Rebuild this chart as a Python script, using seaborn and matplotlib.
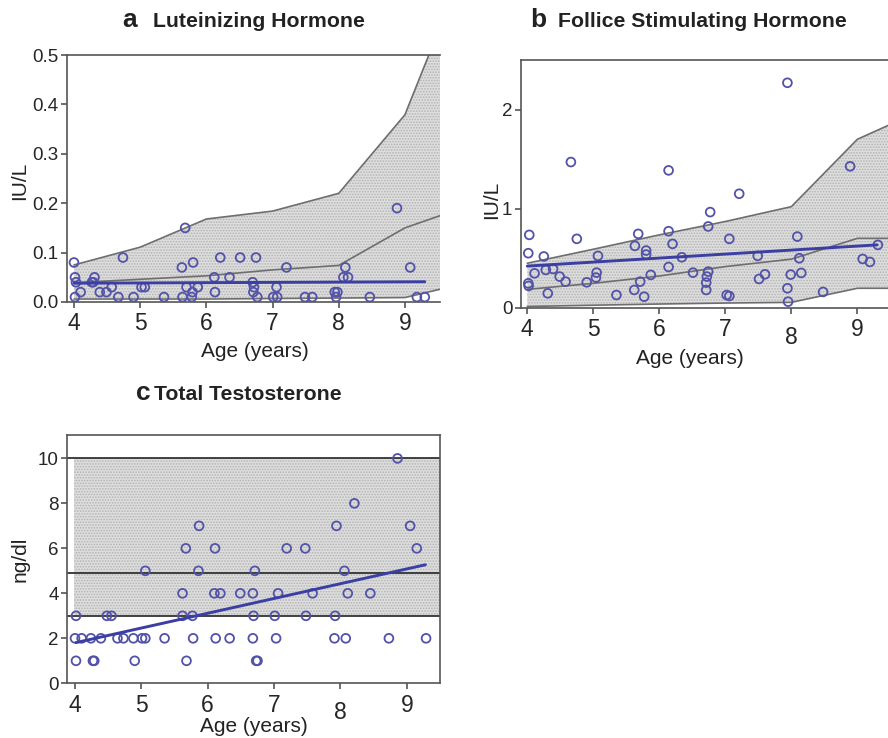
import numpy as np
import pandas as pd
import matplotlib
matplotlib.use("Agg")
import matplotlib.pyplot as plt
from matplotlib.ticker import FormatStrFormatter
import seaborn as sns

# ---------------- data ----------------
# (a) Luteinizing hormone
lh_age = [4.00, 4.015, 4.03, 4.015, 4.10, 4.27, 4.29, 4.31, 4.39, 4.49, 4.57, 4.67,
          4.74, 4.90, 5.02, 5.07, 5.36, 5.63, 5.64, 5.68, 5.70, 5.78, 5.79, 5.80,
          5.87, 6.12, 6.13, 6.21, 6.35, 6.51, 6.70, 6.72, 6.71, 6.75, 6.77, 7.01,
          7.06, 7.07, 7.21, 7.49, 7.60, 7.94, 7.96, 7.98, 8.07, 8.10, 8.14, 8.47,
          8.88, 9.08, 9.18, 9.30]
lh_val = [0.08, 0.05, 0.04, 0.01, 0.02, 0.04, 0.04, 0.05, 0.02, 0.02, 0.03, 0.01,
          0.09, 0.01, 0.03, 0.03, 0.01, 0.07, 0.01, 0.15, 0.03, 0.01, 0.02, 0.08,
          0.03, 0.05, 0.02, 0.09, 0.05, 0.09, 0.04, 0.03, 0.02, 0.09, 0.01, 0.01,
          0.03, 0.01, 0.07, 0.01, 0.01, 0.02, 0.01, 0.02, 0.05, 0.07, 0.05, 0.01,
          0.19, 0.07, 0.01, 0.01]
lh_knot_age = [4, 5, 6, 7, 8, 9, 9.6]
lh_upper = [0.075, 0.111, 0.168, 0.184, 0.220, 0.379, 0.58]
lh_middle = [0.039, 0.046, 0.053, 0.065, 0.074, 0.150, 0.178]
lh_lower = [0.006, 0.006, 0.006, 0.007, 0.008, 0.009, 0.028]
lh_fit_age = [4.0, 9.3]
lh_fit = [0.038, 0.041]

# (b) Follicle stimulating hormone
fsh_age = [4.03, 4.015, 4.015, 4.02, 4.11, 4.25, 4.28, 4.31, 4.39, 4.49, 4.58, 4.66,
           4.75, 4.90, 5.04, 5.05, 5.07, 5.35, 5.63, 5.68, 5.62, 5.71, 5.77, 5.80,
           5.80, 5.87, 6.14, 6.14, 6.14, 6.20, 6.34, 6.51, 6.71, 6.71, 6.72, 6.74,
           6.74, 6.77, 7.02, 7.06, 7.06, 7.21, 7.49, 7.51, 7.60, 7.94, 7.94, 7.95,
           7.99, 8.09, 8.12, 8.15, 8.48, 8.89, 9.08, 9.19, 9.31]
fsh_val = [0.735, 0.55, 0.246, 0.22, 0.347, 0.517, 0.381, 0.145, 0.391, 0.314, 0.263, 1.47,
           0.695, 0.256, 0.304, 0.354, 0.523, 0.128, 0.624, 0.745, 0.179, 0.263, 0.111, 0.577,
           0.536, 0.331, 1.386, 0.772, 0.411, 0.644, 0.509, 0.354, 0.253, 0.179, 0.314, 0.364,
           0.82, 0.965, 0.128, 0.695, 0.118, 1.15, 0.523, 0.29, 0.337, 2.27, 0.196, 0.061,
           0.334, 0.718, 0.499, 0.351, 0.159, 1.427, 0.492, 0.462, 0.634]
fsh_knot_age = [4, 5, 6, 7, 8, 9, 9.6]
fsh_upper = [0.449, 0.59, 0.735, 0.87, 1.02, 1.70, 1.88]
fsh_middle = [0.185, 0.246, 0.32, 0.415, 0.49, 0.70, 0.70]
fsh_lower = [0.012, 0.025, 0.037, 0.047, 0.054, 0.196, 0.196]
fsh_fit_age = [4.0, 9.3]
fsh_fit = [0.42, 0.634]

# (c) Total testosterone
tt_age = [4.015, 4.27, 4.29, 4.90, 5.68, 6.73, 6.75,
          4.00, 4.10, 4.24, 4.39, 4.64, 4.73, 4.88, 5.01, 5.06, 5.35, 5.78, 6.12, 6.33,
          6.68, 7.03, 7.91, 8.08, 8.73, 9.29,
          4.015, 4.48, 4.55, 5.62, 5.77, 6.69, 7.01, 7.48, 7.92,
          5.62, 6.10, 6.19, 6.49, 6.68, 7.06, 7.58, 8.11, 8.45,
          5.06, 5.86, 6.71, 8.06,
          5.67, 6.11, 7.19, 7.47, 9.15,
          5.87, 7.94, 9.05,
          8.21,
          8.86]
tt_val = [1, 1, 1, 1, 1, 1, 1,
          2, 2, 2, 2, 2, 2, 2, 2, 2, 2, 2, 2, 2, 2, 2, 2, 2, 2, 2,
          3, 3, 3, 3, 3, 3, 3, 3, 3,
          4, 4, 4, 4, 4, 4, 4, 4, 4,
          5, 5, 5, 5,
          6, 6, 6, 6, 6,
          7, 7, 7,
          8,
          10]
tt_band = [3, 4.9, 10]
tt_fill_age = [3.99, 9.6]
tt_fit_age = [4.015, 9.28]
tt_fit = [1.81, 5.27]

# ---------------- style ----------------
sns.set_style("ticks")
plt.rcParams['font.family'] = ['Liberation Sans', 'DejaVu Sans']
plt.rcParams['hatch.linewidth'] = 0.8

W, H = 888, 738
fig = plt.figure(figsize=(W / 100, H / 100), dpi=100)

PT_COLOR = '#5252a8'
FIT_COLOR = '#3b3fa3'
CURVE_COLOR = '#6e6e6e'
SPINE_COLOR = '#555555'
FILL_FACE = '#dedede'
FILL_HATCH = '#b2b2b2'


def ax_px(l, t, r, b):
    return fig.add_axes([l / W, 1 - b / H, (r - l) / W, (b - t) / H])


def style_axes(ax, right=True):
    for side in ['left', 'bottom', 'top', 'right']:
        ax.spines[side].set_color(SPINE_COLOR)
        ax.spines[side].set_linewidth(1.2)
    ax.spines['right'].set_visible(right)
    ax.tick_params(axis='both', direction='out', length=4.5, width=1.2, color=SPINE_COLOR)
    ax.tick_params(axis='y', labelsize=13.5, pad=1.5)
    ax.tick_params(axis='x', labelsize=16.5, pad=3)
    ax.set_xlabel('')
    ax.set_ylabel('')


def scatter(ax, ages, vals):
    df = pd.DataFrame({'age': ages, 'val': vals})
    sns.scatterplot(data=df, x='age', y='val', ax=ax, marker='o', s=40,
                    facecolor='none', edgecolor=PT_COLOR, linewidth=1.3,
                    zorder=4, legend=False)


def fitline(ax, ages, vals):
    df = pd.DataFrame({'age': ages, 'val': vals})
    sns.lineplot(data=df, x='age', y='val', ax=ax, color=FIT_COLOR, lw=2.1,
                 zorder=5, legend=False)


def band(ax, knots, lower, middle, upper):
    ax.fill_between(knots, lower, upper, facecolor=FILL_FACE, edgecolor=FILL_HATCH,
                    hatch='......', linewidth=0, zorder=1)
    for curve in (lower, middle, upper):
        df = pd.DataFrame({'age': knots, 'val': curve})
        sns.lineplot(data=df, x='age', y='val', ax=ax, color=CURVE_COLOR, lw=1.2,
                     zorder=2, legend=False)


# ---- panel a ----
ax_a = ax_px(66.7, 55, 440, 302)
band(ax_a, lh_knot_age, lh_lower, lh_middle, lh_upper)
fitline(ax_a, lh_fit_age, lh_fit)
scatter(ax_a, lh_age, lh_val)
ax_a.set_xlim(3.89, 9.53)
ax_a.set_ylim(0, 0.5)
ax_a.set_xticks([4, 5, 6, 7, 8, 9])
ax_a.set_yticks([0, 0.1, 0.2, 0.3, 0.4, 0.5])
ax_a.yaxis.set_major_formatter(FormatStrFormatter('%.1f'))
style_axes(ax_a, right=False)

# ---- panel b ----
ax_b = ax_px(520.7, 60, 897, 307.7)
band(ax_b, fsh_knot_age, fsh_lower, fsh_middle, fsh_upper)
fitline(ax_b, fsh_fit_age, fsh_fit)
scatter(ax_b, fsh_age, fsh_val)
ax_b.set_xlim(3.9, 9.6)
ax_b.set_ylim(0, 2.5)
ax_b.set_xticks([4, 5, 6, 7, 8, 9])
ax_b.set_yticks([0, 1, 2])
style_axes(ax_b, right=False)
ax_b.xaxis.get_major_ticks()[4].set_pad(9)

# ---- panel c ----
ax_c = ax_px(67.3, 435, 440, 683.3)
ax_c.fill_between(tt_fill_age, [tt_band[0]] * 2, [tt_band[2]] * 2, facecolor=FILL_FACE,
                  edgecolor=FILL_HATCH, hatch='......', linewidth=0, zorder=1)
for yv in tt_band:
    ax_c.axhline(yv, color='#333333', lw=1.3, zorder=2)
fitline(ax_c, tt_fit_age, tt_fit)
scatter(ax_c, tt_age, tt_val)
ax_c.set_xlim(3.884, 9.50)
ax_c.set_ylim(0, 11.04)
ax_c.set_xticks([4, 5, 6, 7, 8, 9])
ax_c.set_yticks([0, 2, 4, 6, 8, 10])
style_axes(ax_c, right=True)
ax_c.xaxis.get_major_ticks()[4].set_pad(8)


def ftext(x, y, s, **kw):
    fig.text(x / W, 1 - y / H, s, **kw)


TXT = '#222222'
# titles
ftext(122, 27, 'a', fontsize=19, fontweight='bold', ha='left', va='baseline', color=TXT)
ftext(153, 27, 'Luteinizing Hormone', fontsize=15.3, fontweight='bold', ha='left', va='baseline', color=TXT)
ftext(530, 27, 'b', fontsize=19, fontweight='bold', ha='left', va='baseline', color=TXT)
ftext(558, 27, 'Follice Stimulating Hormone', fontsize=15.3, fontweight='bold', ha='left', va='baseline', color=TXT)
ftext(136, 400, 'c', fontsize=19, fontweight='bold', ha='left', va='baseline', color=TXT)
ftext(154, 400, 'Total Testosterone', fontsize=15.3, fontweight='bold', ha='left', va='baseline', color=TXT)

# axis labels
ftext(255, 352, 'Age (years)', fontsize=15, ha='center', va='center', color=TXT)
ftext(690, 358, 'Age (years)', fontsize=15, ha='center', va='center', color=TXT)
ftext(254, 727, 'Age (years)', fontsize=15, ha='center', va='center', color=TXT)
ftext(20, 181, 'IU/L', fontsize=15, ha='center', va='center', rotation=90, color=TXT)
ftext(492, 200, 'IU/L', fontsize=15, ha='center', va='center', rotation=90, color=TXT)
ftext(20, 559, 'ng/dl', fontsize=15, ha='center', va='center', rotation=90, color=TXT)

fig.savefig('out.png', dpi=100)
